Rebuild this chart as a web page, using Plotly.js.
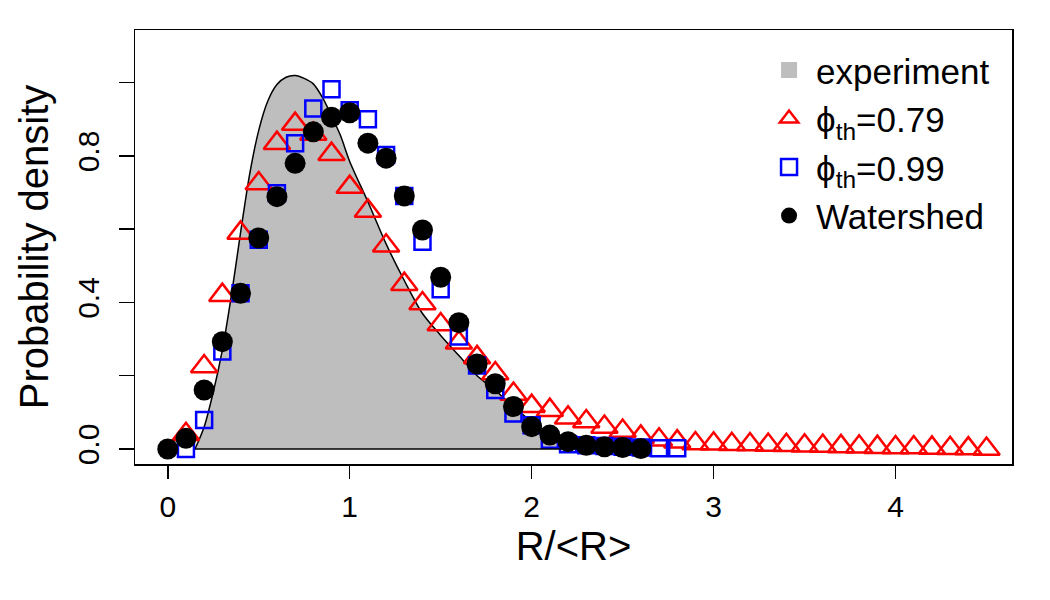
<!DOCTYPE html>
<html>
<head>
<meta charset="utf-8">
<script src="https://cdn.plot.ly/plotly-3.0.1.min.js"></script>
<style>html,body{margin:0;padding:0;background:#fff;}#chart{width:1050px;height:600px;}</style>
</head>
<body>
<div id="chart"></div>
<script>
var expX = [0.15, 0.2, 0.25, 0.3, 0.35, 0.4, 0.45, 0.5, 0.55, 0.6, 0.65, 0.7, 0.75, 0.8, 0.85, 0.9, 0.95, 1.0, 1.1, 1.2, 1.3, 1.4, 1.5, 1.6, 1.7, 1.8, 1.9, 2.0, 2.1, 2.2, 2.3];
var expY = [0.0, 0.06, 0.155, 0.27, 0.42, 0.59, 0.75, 0.87, 0.95, 0.995, 1.015, 1.02, 1.012, 0.997, 0.96, 0.91, 0.855, 0.785, 0.675, 0.56, 0.46, 0.37, 0.31, 0.255, 0.2, 0.16, 0.115, 0.075, 0.04, 0.015, 0.0];

// phi_th = 0.79 (red triangles)
var triX = [0.1, 0.2, 0.3, 0.4, 0.5, 0.6, 0.7, 0.8, 0.9, 1.0, 1.1, 1.2, 1.3, 1.4, 1.5, 1.6, 1.7, 1.8, 1.9, 2.0, 2.1, 2.2, 2.3, 2.4, 2.5, 2.6, 2.7, 2.8, 2.9, 3.0, 3.1, 3.2, 3.3, 3.4, 3.5, 3.6, 3.7, 3.8, 3.9, 4.0, 4.1, 4.2, 4.3, 4.4, 4.5];
var triY = [0.04, 0.225, 0.42, 0.59, 0.725, 0.835, 0.887, 0.86, 0.805, 0.715, 0.65, 0.555, 0.45, 0.397, 0.34, 0.29, 0.25, 0.206, 0.15, 0.117, 0.106, 0.085, 0.075, 0.06, 0.049, 0.033, 0.025, 0.02, 0.015, 0.014, 0.013, 0.012, 0.011, 0.01, 0.009, 0.008, 0.007, 0.006, 0.005, 0.004, 0.004, 0.003, 0.002, 0.001, 0.0];

// phi_th = 0.99 (blue squares)
var sqX = [0.1, 0.2, 0.3, 0.4, 0.5, 0.6, 0.7, 0.8, 0.9, 1.0, 1.1, 1.2, 1.3, 1.4, 1.5, 1.6, 1.7, 1.8, 1.9, 2.0, 2.1, 2.2, 2.3, 2.4, 2.5, 2.6, 2.7, 2.8];
var sqY = [0.0, 0.079, 0.266, 0.425, 0.571, 0.698, 0.835, 0.93, 0.982, 0.925, 0.90, 0.803, 0.691, 0.566, 0.436, 0.307, 0.228, 0.161, 0.097, 0.065, 0.025, 0.013, 0.01, 0.008, 0.006, 0.004, 0.002, 0.002];

// Watershed (black circles)
var wsX = [0.0, 0.1, 0.2, 0.3, 0.4, 0.5, 0.6, 0.7, 0.8, 0.9, 1.0, 1.1, 1.2, 1.3, 1.4, 1.5, 1.6, 1.7, 1.8, 1.9, 2.0, 2.1, 2.2, 2.3, 2.4, 2.5, 2.6];
var wsY = [0.0, 0.029, 0.161, 0.293, 0.425, 0.576, 0.689, 0.78, 0.866, 0.906, 0.918, 0.835, 0.794, 0.691, 0.598, 0.469, 0.345, 0.232, 0.178, 0.116, 0.061, 0.038, 0.02, 0.01, 0.006, 0.004, 0.001];

var xTicks = [0, 1, 2, 3, 4];
var yTicks = [0, 0.4, 0.8];
var yTickText = ['0.0', '0.4', '0.8'];
var yMinorTicks = [0.2, 0.6, 1.0];

var legendNames = ['experiment', '\u03d5<sub>th</sub>=0.79', '\u03d5<sub>th</sub>=0.99', 'Watershed'];

var FONT = 'Liberation Sans, Arial, Helvetica, sans-serif';

var traces = [
  {x: expX, y: expY, type: 'scatter', mode: 'lines', fill: 'tozeroy', fillcolor: '#bebebe',
   line: {color: '#000', width: 1.5, shape: 'spline', smoothing: 0.8}, showlegend: false, hoverinfo: 'skip'},
  {x: [null], y: [null], type: 'scatter', mode: 'markers', name: legendNames[0],
   marker: {symbol: 'square', color: '#bebebe', size: 16}},
  {x: triX, y: triY, type: 'scatter', mode: 'markers', name: legendNames[1],
   marker: {symbol: 'triangle-up-open', color: '#ff0000', size: 23, line: {color: '#ff0000', width: 2.5}}},
  {x: sqX, y: sqY, type: 'scatter', mode: 'markers', name: legendNames[2],
   marker: {symbol: 'square-open', color: '#0000ff', size: 16, line: {color: '#0000ff', width: 2.5}}},
  {x: wsX, y: wsY, type: 'scatter', mode: 'markers', name: legendNames[3],
   marker: {symbol: 'circle', color: '#000000', size: 21}}
];

var layout = {
  width: 1050, height: 600,
  margin: {l: 135, r: 38, t: 30, b: 136},
  paper_bgcolor: '#fff', plot_bgcolor: '#fff',
  font: {family: FONT, color: '#000', size: 30},
  showlegend: true,
  legend: {x: 0.715, xanchor: 'left', y: 0.975, yanchor: 'top', bgcolor: 'rgba(0,0,0,0)',
           font: {family: FONT, size: 35, color: '#000'}, itemwidth: 44, tracegroupgap: 0},
  shapes: [
    {type: 'line', xref: 'x', yref: 'y', layer: 'above',
     x0: expX[0], x1: expX[expX.length - 1], y0: 0, y1: 0,
     line: {color: '#000', width: 1.5}}
  ],
  xaxis: {
    range: [-0.18, 4.64], tickvals: xTicks, ticktext: xTicks.map(String),
    ticks: 'outside', ticklen: 13, tickwidth: 1.5, tickcolor: '#000',
    showgrid: false, zeroline: false, showline: true, mirror: true, linecolor: '#000', linewidth: 1.5,
    tickfont: {family: FONT, size: 30}, ticklabelstandoff: 2,
    title: {text: 'R/&lt;R&gt;', font: {family: FONT, size: 40}, standoff: 10}
  },
  yaxis: {
    range: [-0.041, 1.144], tickmode: 'array', tickvals: yTicks, ticktext: yTickText, tickangle: -90,
    ticks: 'outside', ticklen: 15, tickwidth: 1.5, tickcolor: '#000',
    minor: {tickmode: 'array', tickvals: yMinorTicks, ticks: 'outside', ticklen: 15, tickwidth: 1.5, tickcolor: '#000', showgrid: false},
    showgrid: false, zeroline: false, showline: true, mirror: true, linecolor: '#000', linewidth: 1.5,
    tickfont: {family: FONT, size: 30}, ticklabelstandoff: 8,
    title: {text: 'Probability density', font: {family: FONT, size: 40}, standoff: 10}
  }
};

Plotly.newPlot('chart', traces, layout, {displayModeBar: false, staticPlot: true});
</script>
</body>
</html>
